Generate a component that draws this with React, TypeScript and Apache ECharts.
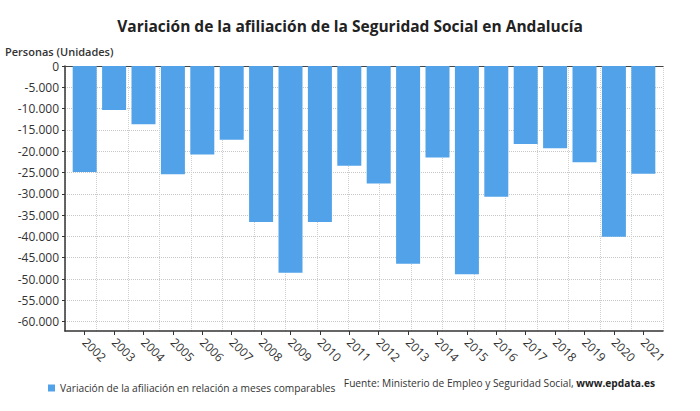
import React, { useEffect, useRef } from "react";
import * as echarts from "echarts";

const years = [2002, 2003, 2004, 2005, 2006, 2007, 2008, 2009, 2010, 2011, 2012, 2013, 2014, 2015, 2016, 2017, 2018, 2019, 2020, 2021];
const values = [-24900, -10300, -13700, -25400, -20800, -17300, -36600, -48500, -36600, -23400, -27600, -46400, -21500, -48900, -30700, -18300, -19300, -22600, -40100, -25300];
const yTicks = [0, -5000, -10000, -15000, -20000, -25000, -30000, -35000, -40000, -45000, -50000, -55000, -60000];
const gridSteps = [0, 19];

const title = "Variación de la afiliación de la Seguridad Social en Andalucía";
const seriesName = "Variación de la afiliación en relación a meses comparables";
const yName = "Personas (Unidades)";
const sourceText = "Fuente: Ministerio de Empleo y Seguridad Social, ";
const sourceLink = "www.epdata.es";

const FONT = "'Open Sans', 'Noto Sans', sans-serif";

function fmt(v: number): string {
  const s = Math.abs(v).toString().replace(/\B(?=(\d{3})+(?!\d))/g, ".");
  return v < 0 ? "-" + s : s;
}

export default function App() {
  const ref = useRef<HTMLDivElement>(null);
  useEffect(() => {
    if (!ref.current) return;
    const chart = echarts.init(ref.current, null, { renderer: "svg" });
    chart.setOption({
      animation: false,
      backgroundColor: "#ffffff",
      textStyle: { fontFamily: FONT },
      title: {
        text: title,
        left: "center",
        top: 13,
        textStyle: { fontFamily: FONT, fontSize: 15.5, fontWeight: "bold", color: "#222" },
      },
      legend: {
        left: 43,
        top: 378,
        icon: "rect",
        itemWidth: 7,
        itemHeight: 7,
        itemGap: 5,
        textStyle: { fontFamily: FONT, fontSize: 10.2, color: "#333" },
        data: [seriesName],
      },
      graphic: [
        {
          type: "text",
          left: 5,
          top: 46,
          style: { text: yName, font: `600 11px ${FONT}`, fill: "#333" },
        },
        {
          type: "text",
          right: 45,
          top: 378,
          style: {
            text: `{n|${sourceText}}{b|${sourceLink}}`,
            rich: {
              n: { fontFamily: FONT, fontSize: 10.2, fill: "#333", color: "#333" },
              b: { fontFamily: FONT, fontSize: 10.2, fontWeight: "bold", fill: "#222", color: "#222" },
            },
          },
        },
      ],
      grid: { left: 65, right: 37, top: 66, bottom: 80, containLabel: false },
      xAxis: [
        {
          type: "value",
          min: 2001.33,
          max: 2021.67,
          position: "bottom",
          axisLine: { show: true, onZero: false, lineStyle: { color: "#333", width: 1.5 } },
          axisTick: { show: true, length: 4, customValues: years, lineStyle: { color: "#333" } },
          axisLabel: {
            customValues: years,
            rotate: -45,
            margin: 9,
            fontFamily: FONT,
            fontSize: 12,
            color: "#333",
            formatter: (v: number) => String(Math.round(v)),
          },
          splitLine: { show: false },
        },
        {
          type: "value",
          min: gridSteps[0],
          max: gridSteps[1],
          interval: 1,
          position: "top",
          axisLine: { show: true, onZero: false, lineStyle: { color: "#444", width: 1.2 } },
          axisTick: { show: false },
          axisLabel: { show: false },
          splitLine: { show: true, lineStyle: { type: "dotted", color: "#cfcfcf", width: 1 } },
        },
      ],
      yAxis: {
        type: "value",
        min: -62200,
        max: 0,
        axisLine: { show: true, onZero: false, lineStyle: { color: "#333", width: 1.5 } },
        axisTick: { show: true, length: 3, customValues: yTicks, lineStyle: { color: "#333" } },
        axisLabel: {
          customValues: yTicks,
          margin: 6,
          fontFamily: FONT,
          fontSize: 12,
          color: "#333",
          formatter: (v: number) => fmt(v),
        },
        splitLine: { show: true, lineStyle: { type: "dotted", color: "#c8c8c8", width: 1 } },
      },
      series: [
        {
          name: seriesName,
          type: "bar",
          xAxisIndex: 0,
          barWidth: 24,
          itemStyle: { color: "#51a2e8" },
          data: years.map((y, i) => [y, values[i]]),
        },
      ],
    });
    return () => chart.dispose();
  }, []);
  return <div ref={ref} style={{ position: "absolute", left: 0, top: 0, width: 700, height: 411 }} />;
}
